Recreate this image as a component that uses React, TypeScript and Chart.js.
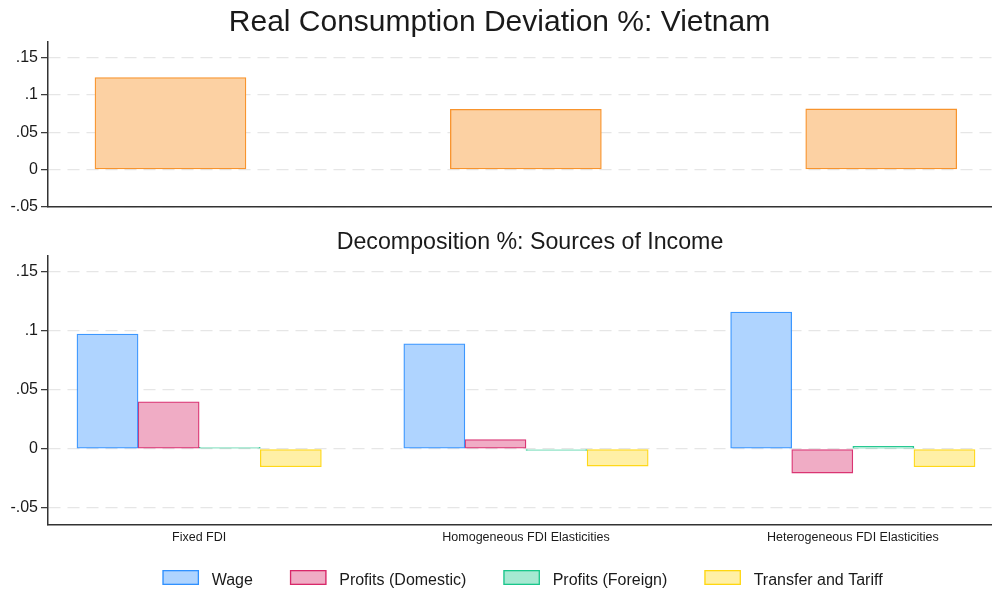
import React, { useEffect, useRef } from "react";
import { Chart, registerables } from "chart.js";

Chart.register(...registerables);

// ---------- data ----------
const TOP_TITLE = "Real Consumption Deviation %: Vietnam";
const BOTTOM_TITLE = "Decomposition %: Sources of Income";
const CATEGORIES = ["Fixed FDI", "Homogeneous FDI Elasticities", "Heterogeneous FDI Elasticities"];
const CATEGORY_POS = [0, 1, 2];
const CONSUMPTION = [0.123, 0.0805, 0.0811];
const WAGE = [0.0969, 0.0887, 0.1155];
const PROFITS_DOMESTIC = [0.0397, 0.0079, -0.0205];
const PROFITS_FOREIGN = [0.0004, -0.0006, 0.002];
const TRANSFER_TARIFF = [-0.0152, -0.0146, -0.0152];
const SERIES_LABELS = ["Wage", "Profits (Domestic)", "Profits (Foreign)", "Transfer and Tariff"];
const Y_TICKS = [-0.05, 0, 0.05, 0.1, 0.15];
const Y_TICK_LABELS = ["-.05", "0", ".05", ".1", ".15"];

// ---------- styles ----------
const FONT = "'Liberation Sans', Arial, Helvetica, sans-serif";
const TEXT = "#1a1a1a";
const AXIS = "#333333";
const GRID = "#e6e6e6";
const ORANGE = { fill: "rgb(252,209,163)", line: "rgb(248,148,45)" };
const SERIES_STYLE = [
  { fill: "rgb(175,212,255)", line: "rgba(26,133,255,0.85)" },
  { fill: "rgb(240,172,197)", line: "rgba(212,17,89,0.85)" },
  { fill: "rgb(166,233,210)", line: "rgba(0,191,127,0.85)" },
  { fill: "rgb(255,240,166)", line: "rgba(255,212,0,0.9)" },
];
const SERIES = [WAGE, PROFITS_DOMESTIC, PROFITS_FOREIGN, TRANSFER_TARIFF];

const W = 992;
const TOP_H = 215;
const BOT_H = 590 - TOP_H;

function yScale(min: number, max: number) {
  return {
    type: "linear",
    min,
    max,
    afterBuildTicks: (s: any) => {
      s.ticks = Y_TICKS.map((v) => ({ value: v }));
    },
    afterFit: (s: any) => {
      s.width = 48;
      s.paddingTop = 0;
      s.paddingBottom = 0;
    },
    ticks: {
      callback: (_v: any, i: number) => Y_TICK_LABELS[i],
      font: { family: FONT, size: 16 },
      color: TEXT,
      padding: 3,
    },
    grid: {
      color: GRID,
      lineWidth: 1.3,
      tickColor: AXIS,
      tickWidth: 1.2,
      tickLength: 7,
      tickBorderDash: [],
    },
    border: { display: true, color: AXIS, width: 1.5, dash: [12, 7] },
  };
}

export default function App() {
  const topRef = useRef<HTMLCanvasElement>(null);
  const botRef = useRef<HTMLCanvasElement>(null);

  useEffect(() => {
    const titlePlugin = {
      id: "topTitle",
      afterDraw(chart: any) {
        const ctx = chart.ctx;
        ctx.save();
        ctx.font = `30px ${FONT}`;
        ctx.fillStyle = TEXT;
        ctx.textAlign = "center";
        ctx.textBaseline = "alphabetic";
        ctx.fillText(TOP_TITLE, 499.5, 31);
        ctx.restore();
      },
    };

    const top = new Chart(topRef.current as HTMLCanvasElement, {
      type: "bar",
      data: {
        datasets: [
          {
            label: "Consumption",
            data: CATEGORY_POS.map((x, i) => ({ x, y: CONSUMPTION[i] })),
            backgroundColor: ORANGE.fill,
            borderColor: ORANGE.line,
            borderWidth: 1.3,
            borderSkipped: false,
            barThickness: 151,
          },
        ],
      },
      options: {
        animation: false,
        responsive: false,
        maintainAspectRatio: false,
        events: [],
        layout: { padding: { top: 41.7, left: 0, right: 0, bottom: 0 } },
        plugins: { legend: { display: false }, tooltip: { enabled: false }, title: { display: false } },
        scales: {
          x: {
            type: "linear",
            offset: false,
            min: -0.3446,
            max: 2.3117,
            afterBuildTicks: (s: any) => {
              s.ticks = CATEGORY_POS.map((v) => ({ value: v }));
            },
            afterFit: (s: any) => {
              s.height = 8;
              s.paddingLeft = 0;
              s.paddingRight = 0;
            },
            ticks: { display: false },
            grid: { display: false, drawTicks: false, offset: false },
            border: { display: true, color: AXIS, width: 1.5 },
          },
          y: yScale(-0.05, 0.171),
        },
      } as any,
      plugins: [titlePlugin],
    });

    const bottomPlugin = {
      id: "bottomText",
      afterDraw(chart: any) {
        const ctx = chart.ctx;
        ctx.save();
        ctx.fillStyle = TEXT;
        ctx.textAlign = "center";
        ctx.textBaseline = "alphabetic";
        ctx.font = `23.2px ${FONT}`;
        ctx.fillText(BOTTOM_TITLE, 530, 33.7);

        // legend
        const fontSize = 16;
        ctx.font = `${fontSize}px ${FONT}`;
        const boxW = 36.6;
        const boxH = 15;
        const textGap = 12.7;
        const itemGap = 37;
        const items = chart.data.datasets.map((d: any) => ({
          label: d.label,
          fill: d.backgroundColor,
          line: d.borderColor,
          w: boxW + textGap + ctx.measureText(d.label).width,
        }));
        const total = items.reduce((a: number, it: any) => a + it.w, 0) + itemGap * (items.length - 1);
        let x = 522.5 - total / 2;
        const boxTop = 355;
        ctx.textAlign = "left";
        for (const it of items) {
          ctx.fillStyle = it.fill;
          ctx.fillRect(x, boxTop, boxW, boxH);
          ctx.strokeStyle = it.line;
          ctx.lineWidth = 1.3;
          ctx.strokeRect(x + 0.65, boxTop + 0.65, boxW - 1.3, boxH - 1.3);
          ctx.fillStyle = TEXT;
          ctx.fillText(it.label, x + boxW + textGap, 369.8);
          x += it.w + itemGap;
        }
        ctx.restore();
      },
    };

    const bottom = new Chart(botRef.current as HTMLCanvasElement, {
      type: "bar",
      data: {
        datasets: SERIES.map((vals, k) => ({
          label: SERIES_LABELS[k],
          data: CATEGORY_POS.map((x, i) => ({ x, y: vals[i] })),
          backgroundColor: SERIES_STYLE[k].fill,
          borderColor: SERIES_STYLE[k].line,
          borderWidth: 1.3,
          borderSkipped: false,
          barThickness: 61.1,
          minBarLength: 1.6,
        })),
      },
      options: {
        animation: false,
        responsive: false,
        maintainAspectRatio: false,
        events: [],
        layout: { padding: { top: 40.7, left: 0, right: 0, bottom: 0 } },
        plugins: { legend: { display: false }, tooltip: { enabled: false }, title: { display: false } },
        scales: {
          x: {
            type: "linear",
            offset: false,
            min: -0.4625,
            max: 2.4258,
            afterBuildTicks: (s: any) => {
              s.ticks = CATEGORY_POS.map((v) => ({ value: v }));
            },
            afterFit: (s: any) => {
              s.height = 65.7;
              s.paddingLeft = 0;
              s.paddingRight = 0;
            },
            ticks: {
              callback: (_v: any, i: number) => CATEGORIES[i],
              font: { family: FONT, size: 12.5 },
              color: TEXT,
              padding: 6,
              autoSkip: false,
              maxRotation: 0,
              minRotation: 0,
            },
            grid: { display: false, drawTicks: false, offset: false },
            border: { display: true, color: AXIS, width: 1.5 },
          },
          y: yScale(-0.0638, 0.1632),
        },
      } as any,
      plugins: [bottomPlugin],
    });

    return () => {
      top.destroy();
      bottom.destroy();
    };
  }, []);

  return (
    <div style={{ position: "fixed", left: 0, top: 0, width: W, height: 590, background: "#fff" }}>
      <canvas ref={topRef} width={W} height={TOP_H} style={{ position: "absolute", left: 0, top: 0, display: "block" }} />
      <canvas ref={botRef} width={W} height={BOT_H} style={{ position: "absolute", left: 0, top: TOP_H, display: "block" }} />
    </div>
  );
}
